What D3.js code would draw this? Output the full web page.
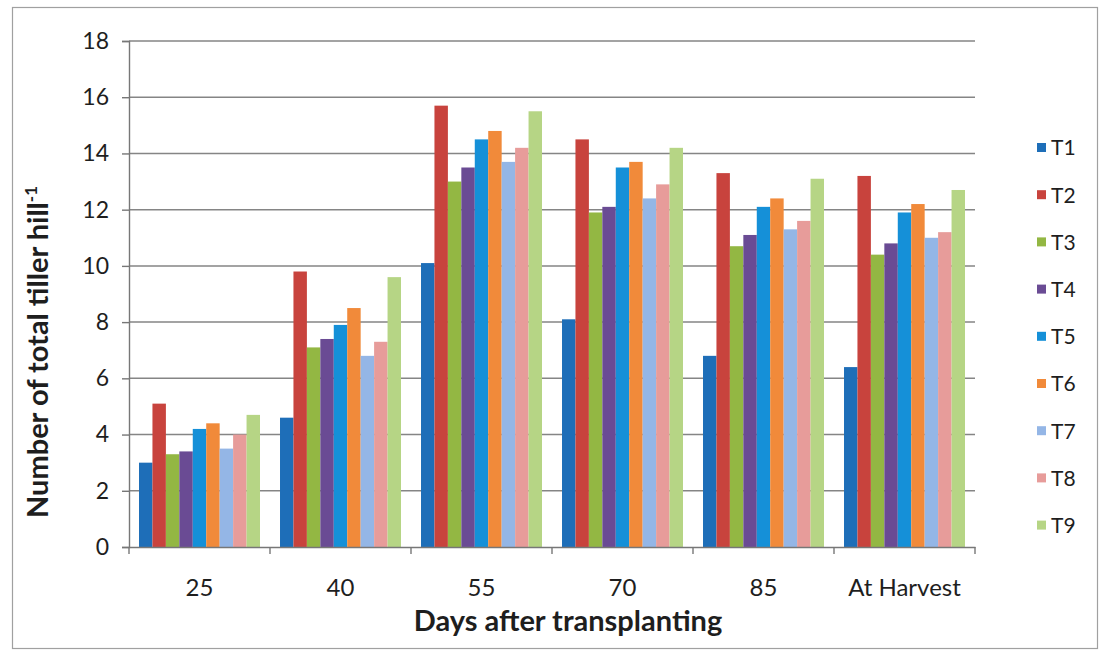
<!DOCTYPE html>
<html>
<head>
<meta charset="utf-8">
<script src="https://cdn.jsdelivr.net/npm/d3@7"></script>
<style>
  html, body { margin: 0; padding: 0; background: #ffffff; }
  svg { display: block; }
  text { font-family: Lato, "Open Sans", sans-serif; fill: #1e1e1e; }
</style>
</head>
<body>
<svg id="chart" width="1107" height="655"></svg>
<script>
// Sampling stages (days after transplanting)
const categories = ["25", "40", "55", "70", "85", "At Harvest"];
const treatments = ["T1", "T2", "T3", "T4", "T5", "T6", "T7", "T8", "T9"];

// Number of total tillers per hill, one array per treatment (in stage order)
const T1 = [3.0, 4.6, 10.1, 8.1, 6.8, 6.4];
const T2 = [5.1, 9.8, 15.7, 14.5, 13.3, 13.2];
const T3 = [3.3, 7.1, 13.0, 11.9, 10.7, 10.4];
const T4 = [3.4, 7.4, 13.5, 12.1, 11.1, 10.8];
const T5 = [4.2, 7.9, 14.5, 13.5, 12.1, 11.9];
const T6 = [4.4, 8.5, 14.8, 13.7, 12.4, 12.2];
const T7 = [3.5, 6.8, 13.7, 12.4, 11.3, 11.0];
const T8 = [4.0, 7.3, 14.2, 12.9, 11.6, 11.2];
const T9 = [4.7, 9.6, 15.5, 14.2, 13.1, 12.7];
const seriesValues = [T1, T2, T3, T4, T5, T6, T7, T8, T9];

const yTicks = [0, 2, 4, 6, 8, 10, 12, 14, 16, 18];

const colors = ["#1E6EB8", "#C8433D", "#93B743", "#6A4B94", "#1590D8",
                "#F18A3A", "#94B6E6", "#E79C9A", "#B6D585"];

const svg = d3.select("#chart");

// outer frame
svg.append("rect")
  .attr("x", 12.5).attr("y", 7.5)
  .attr("width", 1085).attr("height", 641)
  .attr("fill", "none").attr("stroke", "#a0a0a0").attr("stroke-width", 1.2);

const plot = { left: 129, right: 975, top: 41, bottom: 547 };

const x0 = d3.scaleBand()
  .domain(categories)
  .range([plot.left, plot.right])
  .paddingInner(0.142)
  .paddingOuter(0.071);

const x1 = d3.scaleBand()
  .domain(treatments)
  .range([0, x0.bandwidth()])
  .padding(0);

const y = d3.scaleLinear().domain([0, 18]).range([plot.bottom, plot.top]);

// horizontal gridlines
svg.append("g")
  .selectAll("line")
  .data(yTicks.filter(d => d > 0))
  .join("line")
  .attr("x1", plot.left).attr("x2", plot.right)
  .attr("y1", d => y(d)).attr("y2", d => y(d))
  .attr("stroke", "#858585").attr("stroke-width", 1.5);

// bars
const groups = svg.append("g")
  .selectAll("g")
  .data(categories)
  .join("g")
  .attr("transform", d => `translate(${x0(d)},0)`);

groups.selectAll("rect")
  .data((c, ci) => treatments.map((t, ti) => ({ t, ti, v: seriesValues[ti][ci] })))
  .join("rect")
  .attr("x", d => x1(d.t))
  .attr("width", x1.bandwidth())
  .attr("y", d => y(d.v))
  .attr("height", d => y(0) - y(d.v))
  .attr("fill", d => colors[d.ti]);

// y axis
const yAxis = svg.append("g")
  .attr("transform", `translate(${plot.left},0)`)
  .call(d3.axisLeft(y).tickValues(yTicks).tickSize(7).tickPadding(13));
yAxis.select(".domain").attr("stroke", "#777").attr("stroke-width", 1.4);
yAxis.selectAll(".tick line").attr("stroke", "#777").attr("stroke-width", 1.4);
yAxis.selectAll(".tick text")
  .style("font-family", "Lato, 'Open Sans', sans-serif")
  .style("font-size", "23px").attr("fill", "#1e1e1e");

// x axis: category labels centred, tick marks at group boundaries
const xAxis = svg.append("g")
  .attr("transform", `translate(0,${plot.bottom})`)
  .call(d3.axisBottom(x0).tickSize(0).tickPadding(32));
xAxis.select(".domain").attr("stroke", "#777").attr("stroke-width", 1.4);
xAxis.selectAll(".tick text")
  .style("font-family", "Lato, 'Open Sans', sans-serif")
  .style("font-size", "24px").attr("fill", "#1e1e1e");

const step = x0.step();
svg.append("g")
  .selectAll("line")
  .data(d3.range(categories.length + 1))
  .join("line")
  .attr("x1", i => plot.left + i * step).attr("x2", i => plot.left + i * step)
  .attr("y1", plot.bottom).attr("y2", plot.bottom + 7)
  .attr("stroke", "#777").attr("stroke-width", 1.4);

// axis titles
svg.append("text")
  .attr("x", 568).attr("y", 631)
  .attr("text-anchor", "middle")
  .style("font-size", "29px").style("font-weight", "bold")
  .text("Days after transplanting");

const yTitle = svg.append("text")
  .attr("transform", "translate(48,352) rotate(-90)")
  .attr("text-anchor", "middle")
  .style("font-size", "29px").style("font-weight", "bold");
yTitle.append("tspan").text("Number of total tiller hill");
yTitle.append("tspan").attr("dy", -11).style("font-size", "17px").text("-1");

// legend
const legend = svg.append("g")
  .selectAll("g")
  .data(treatments)
  .join("g")
  .attr("transform", (d, i) => `translate(1037,${148 + i * 47.2})`);
legend.append("rect")
  .attr("x", 0).attr("y", -5).attr("width", 9).attr("height", 9)
  .attr("fill", (d, i) => colors[i]);
legend.append("text")
  .attr("x", 14).attr("y", 0).attr("dy", "0.35em")
  .style("font-size", "21px")
  .text(d => d);
</script>
</body>
</html>
